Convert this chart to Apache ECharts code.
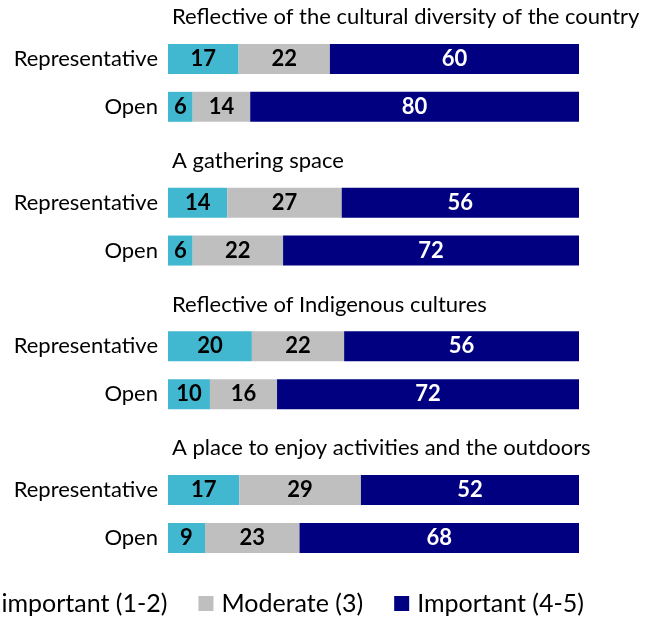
<!DOCTYPE html>
<html>
<head>
<meta charset="utf-8">
<script src="https://cdn.jsdelivr.net/npm/echarts@6/dist/echarts.min.js"></script>
<style>html,body{margin:0;padding:0;background:#fff}#c{width:648px;height:618px}</style>
</head>
<body>
<div id="c"></div>
<script>
const groupTitles = ['Reflective of the cultural diversity of the country','A gathering space','Reflective of Indigenous cultures','A place to enjoy activities and the outdoors'];
const rowLabels = ['Representative','Open'];
const seriesNames = ['Unimportant (1-2)','Moderate (3)','Important (4-5)'];
const unimportant = [17,6,14,6,20,10,17,9];
const moderate = [22,14,27,22,22,16,29,23];
const important = [60,80,56,72,56,72,52,68];

const FONT = 'Lato';
const colors = ['#41B8CF','#BFBFBF','#000080'];
const labelColors = ['#000','#000','#fff'];
const raw = [unimportant, moderate, important];

// Build row layout: heading row, then the two bar rows per group
const cats = [], catText = [], isHead = [], barIdx = [];
let b = 0;
groupTitles.forEach((t, g) => {
  cats.push('h' + g); catText.push(''); isHead.push(true); barIdx.push(-1);
  rowLabels.forEach((r, k) => {
    cats.push('r' + g + '_' + k); catText.push(r); isHead.push(false); barIdx.push(b++);
  });
});
const totals = unimportant.map((v, i) => v + moderate[i] + important[i]);

const series = raw.map((arr, s) => ({
  name: seriesNames[s],
  type: 'bar',
  stack: 'all',
  barWidth: 30,
  itemStyle: { color: colors[s] },
  label: {
    show: true, position: 'inside', color: labelColors[s],
    fontFamily: FONT, fontWeight: 'bold', fontSize: 22,
    formatter: p => p.data.raw
  },
  data: cats.map((c, i) => isHead[i] ? '-' : { value: arr[barIdx[i]] / totals[barIdx[i]] * 100, raw: arr[barIdx[i]] })
}));
series.push({
  name: 'heading', type: 'bar', stack: 'all', barWidth: 30, silent: true,
  itemStyle: { color: 'rgba(0,0,0,0)' },
  label: {
    show: true, position: 'insideLeft', distance: 4, offset: [0, 6],
    color: '#000', fontFamily: FONT, fontSize: 22,
    formatter: p => p.data.text
  },
  data: cats.map((c, i) => isHead[i] ? { value: 100, text: groupTitles[Math.floor(i / 3)] } : '-')
});

const chart = echarts.init(document.getElementById('c'));
chart.setOption({
  animation: false,
  grid: { left: 168, right: 69, top: 11, bottom: 80, containLabel: false },
  xAxis: { type: 'value', min: 0, max: 100, show: false },
  yAxis: {
    type: 'category', data: cats, inverse: true, boundaryGap: false,
    axisLine: { show: false },
    axisTick: { show: false },
    splitLine: { show: false },
    axisLabel: { margin: 10, color: '#000', fontFamily: FONT, fontSize: 22, formatter: (v, i) => catText[i] }
  },
  legend: {
    data: seriesNames, right: 64, top: 591, width: 900, padding: 0,
    icon: 'rect', itemWidth: 15, itemHeight: 15, itemGap: 31,
    textStyle: { fontFamily: FONT, fontSize: 25, color: '#000', padding: [0, 0, 0, 3] }
  },
  series
});
</script>
</body>
</html>
